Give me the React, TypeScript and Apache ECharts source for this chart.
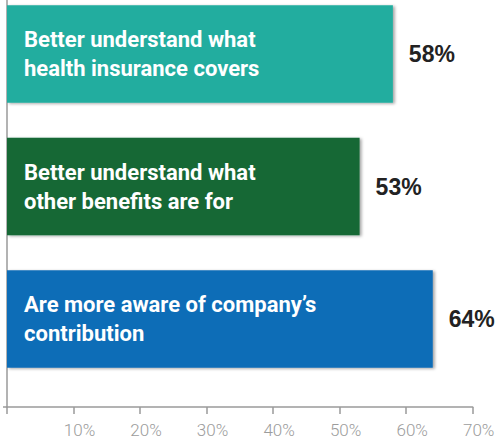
import React, { useEffect, useRef } from "react";
import * as echarts from "echarts";

const categories = [
  "Better understand what\nhealth insurance covers",
  "Better understand what\nother benefits are for",
  "Are more aware of company\u2019s\ncontribution",
];
const values = [58, 53, 64];
const barColors = ["#21ad9f", "#136734", "#106db7"];
const axisMin = 0;
const axisMax = 70;
const axisInterval = 10;

export default function App() {
  const ref = useRef<HTMLDivElement>(null);
  useEffect(() => {
    if (!ref.current) return;
    const chart = echarts.init(ref.current, undefined, { renderer: "svg" });
    const shadow = {
      shadowBlur: 3,
      shadowColor: "rgba(0,0,0,0.35)",
      shadowOffsetX: 2,
      shadowOffsetY: 1,
    };
    chart.setOption({
      animation: false,
      grid: [
        { left: 7, right: 23.3, top: -12.25, bottom: 53.75, containLabel: false, outerBoundsMode: "none" },
        { left: 7, right: 23.3, top: -6, bottom: 32, containLabel: false, outerBoundsMode: "none" },
      ],
      xAxis: [
        { gridIndex: 0, type: "value", min: axisMin, max: axisMax, show: false },
        {
          gridIndex: 1,
          type: "value",
          min: axisMin,
          max: axisMax,
          interval: axisInterval,
          axisLine: { show: true, lineStyle: { color: "#9a9a9a", width: 1.5 } },
          axisTick: { show: true, length: 7, lineStyle: { color: "#9a9a9a", width: 1.5 } },
          splitLine: { show: false },
          axisLabel: {
            show: true,
            color: "#9c9c9c",
            fontSize: 17,
            fontFamily: "Roboto, sans-serif",
            fontWeight: 300,
            margin: 14,
            padding: [0, 0, 0, 12],
            formatter: (v: number) => (v === 0 ? "" : v + "%"),
          },
        },
      ],
      yAxis: [
        {
          gridIndex: 0,
          type: "category",
          data: categories,
          inverse: true,
          show: false,
        },
        {
          gridIndex: 1,
          type: "value",
          min: 0,
          max: 1,
          interval: 1,
          axisLine: { show: true, lineStyle: { color: "#9a9a9a", width: 1.5 } },
          axisTick: { show: true, length: 4, lineStyle: { color: "#9a9a9a", width: 1.5 } },
          axisLabel: { show: false },
          splitLine: { show: false },
        },
      ],
      series: [
        {
          type: "bar",
          xAxisIndex: 0,
          yAxisIndex: 0,
          barCategoryGap: "26.4%",
          data: values.map((v, i) => ({
            value: v,
            itemStyle: { color: barColors[i], ...shadow },
          })),
          label: {
            show: true,
            position: "insideLeft",
            distance: 17,
            color: "#ffffff",
            fontSize: 22,
            fontWeight: "bold",
            lineHeight: 29,
            fontFamily: "Roboto, sans-serif",
            formatter: (p: any) => categories[p.dataIndex],
          },
          z: 3,
        },
        {
          type: "bar",
          xAxisIndex: 0,
          yAxisIndex: 0,
          barGap: "-100%",
          barCategoryGap: "26.4%",
          silent: true,
          data: values,
          itemStyle: { color: "rgba(0,0,0,0)" },
          label: {
            show: true,
            position: "right",
            distance: 16,
            color: "#222222",
            fontSize: 23,
            fontWeight: "bold",
            fontFamily: '"Liberation Sans", Arial, sans-serif',
            formatter: (p: any) => p.value + "%",
          },
          z: 2,
        },
      ],
    });
    return () => chart.dispose();
  }, []);
  return (
    <div
      ref={ref}
      style={{ position: "fixed", left: 0, top: 0, width: 496, height: 439, background: "#fff" }}
    />
  );
}
